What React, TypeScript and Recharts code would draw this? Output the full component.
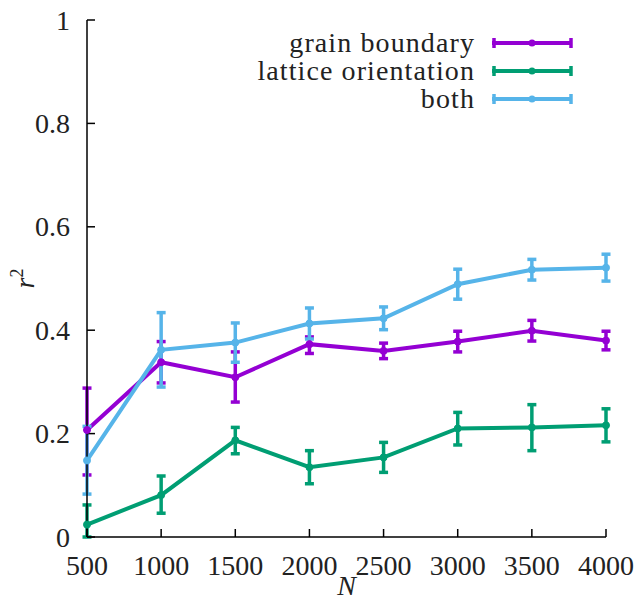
import { ComposedChart, Line, XAxis, YAxis, ErrorBar, Legend } from 'recharts';

const nValues = [500, 1000, 1500, 2000, 2500, 3000, 3500, 4000];

const grainBoundary = [0.207, 0.338, 0.309, 0.373, 0.36, 0.378, 0.399, 0.38];
const grainBoundaryErr = [
  [0.087, 0.081], [0.04, 0.04], [0.048, 0.049], [0.018, 0.014],
  [0.015, 0.015], [0.02, 0.02], [0.02, 0.02], [0.018, 0.018],
];

const lattice = [0.024, 0.081, 0.187, 0.135, 0.154, 0.21, 0.212, 0.216];
const latticeErr = [
  [0.024, 0.038], [0.035, 0.037], [0.026, 0.025], [0.032, 0.032],
  [0.029, 0.029], [0.032, 0.031], [0.045, 0.044], [0.032, 0.032],
];

const both = [0.148, 0.362, 0.376, 0.413, 0.423, 0.489, 0.517, 0.521];
const bothErr = [
  [0.065, 0.066], [0.072, 0.072], [0.038, 0.038], [0.03, 0.03],
  [0.022, 0.022], [0.029, 0.029], [0.02, 0.02], [0.026, 0.026],
];

const yTicks = [0, 0.2, 0.4, 0.6, 0.8, 1];

const series = [
  { key: 'gb', name: 'grain boundary', color: '#9400D3' },
  { key: 'lat', name: 'lattice orientation', color: '#009E73' },
  { key: 'both', name: 'both', color: '#56B4E9' },
];

const data = nValues.map((n, i) => ({
  n,
  gb: grainBoundary[i],
  gbErr: grainBoundaryErr[i],
  lat: lattice[i],
  latErr: latticeErr[i],
  both: both[i],
  bothErr: bothErr[i],
}));

const FONT = '"Liberation Serif", "Times New Roman", serif';
const FS = 28;
const txt = { fontFamily: FONT, fontSize: FS, fill: '#222' };

const XTick = ({ x, y, payload }: any) => (
  <text x={x} y={y} dy={38} textAnchor="middle" style={txt}>
    {payload.value}
  </text>
);

const YTick = ({ x, y, payload }: any) => (
  <text x={x} y={y} dx={-17} dy={9.5} textAnchor="end" style={txt}>
    {payload.value}
  </text>
);

const NoTick = () => <g />;

// gnuplot-style key in the top right corner
const LegendBox = () => (
  <svg width={637} height={120} style={{ display: 'block' }}>
    {series.map((s, i) => {
      const y = 43 + i * 28;
      return (
        <g key={s.key}>
          <text x={475} y={y + 9} textAnchor="end" style={{ ...txt, letterSpacing: 1.1 }}>
            {s.name}
          </text>
          <line x1={492} x2={572} y1={y} y2={y} stroke={s.color} strokeWidth={4} />
          <line x1={494} x2={494} y1={y - 5} y2={y + 5} stroke={s.color} strokeWidth={3.5} />
          <line x1={571} x2={571} y1={y - 5} y2={y + 5} stroke={s.color} strokeWidth={3.5} />
          <circle cx={532} cy={y} r={3.5} fill={s.color} />
        </g>
      );
    })}
  </svg>
);

export default function App() {
  return (
    <div style={{ position: 'absolute', left: 0, top: 0 }}>
      <ComposedChart
        width={637}
        height={603}
        data={data}
        margin={{ top: 20, right: 31, left: 0, bottom: 0 }}
      >
        <XAxis
          dataKey="n"
          type="number"
          domain={[500, 4000]}
          ticks={nValues}
          height={66}
          tickSize={-8}
          tickMargin={8}
          tick={<XTick />}
          stroke="#000"
          strokeWidth={1.5}
          label={{
            content: ({ viewBox }: any) => (
              <text
                x={viewBox.x + viewBox.width / 2}
                y={viewBox.y + viewBox.height - 8}
                textAnchor="middle"
                style={{ ...txt, fontStyle: 'italic' }}
              >
                N
              </text>
            ),
          }}
        />
        <XAxis
          xAxisId="top"
          orientation="top"
          type="number"
          domain={[500, 4000]}
          ticks={nValues}
          height={0}
          tickSize={-8}
          tick={<NoTick />}
          stroke="#000"
          strokeWidth={1.5}
        />
        <YAxis
          type="number"
          domain={[0, 1]}
          ticks={yTicks}
          width={87}
          tickSize={-8}
          tickMargin={8}
          tick={<YTick />}
          stroke="#000"
          strokeWidth={1.5}
          label={{
            content: ({ viewBox }: any) => {
              const cx = 34;
              const cy = viewBox.y + viewBox.height / 2;
              return (
                <text
                  x={cx}
                  y={cy}
                  transform={`rotate(-90 ${cx} ${cy})`}
                  textAnchor="middle"
                  style={txt}
                >
                  <tspan fontStyle="italic">r</tspan>
                  <tspan fontSize={18} dy={-11}>2</tspan>
                </text>
              );
            },
          }}
        />
        <YAxis
          yAxisId="right"
          orientation="right"
          type="number"
          domain={[0, 1]}
          ticks={yTicks}
          width={0}
          tickSize={-8}
          tick={<NoTick />}
          stroke="#000"
          strokeWidth={1.5}
        />
        <Legend
          verticalAlign="middle"
          layout="horizontal"
          content={<LegendBox />}
          wrapperStyle={{ position: 'absolute', top: 0, left: 0, width: 637, height: 120 }}
        />
        {series.map((s) => (
          <Line
            key={s.key}
            dataKey={s.key}
            name={s.name}
            stroke={s.color}
            strokeWidth={4}
            dot={{ r: 3.5, fill: s.color, stroke: s.color, strokeWidth: 1 }}
            isAnimationActive={false}
          >
            <ErrorBar
              dataKey={`${s.key}Err`}
              direction="y"
              width={4.5}
              stroke={s.color}
              strokeWidth={3.5}
              isAnimationActive={false}
            />
          </Line>
        ))}
      </ComposedChart>
    </div>
  );
}
